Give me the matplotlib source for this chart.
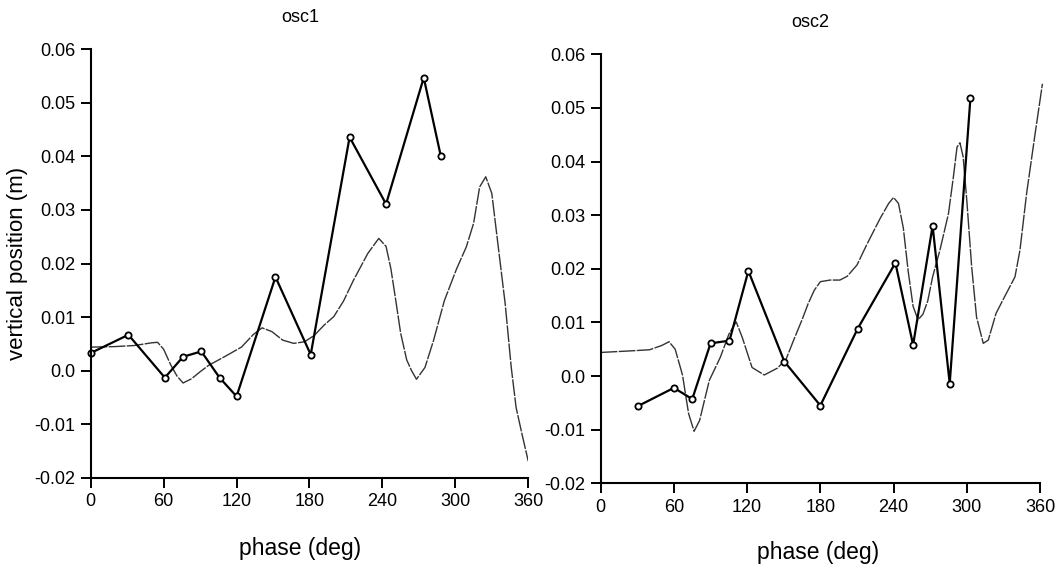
import matplotlib
matplotlib.use("Agg")
from matplotlib import pyplot as plt

plt.rcParams['font.family'] = ['Liberation Sans', 'DejaVu Sans']

# osc1: measured points (solid) and smooth model curve (dashed)
osc1_phase = [0, 31, 61, 76, 91, 106, 120, 152, 181, 213, 243, 274, 288]
osc1_pos = [0.0033, 0.0067, -0.0013, 0.0026, 0.0036, -0.0013, -0.0048,
            0.0175, 0.0030, 0.0436, 0.0311, 0.0547, 0.0401]

osc1_curve_phase = [0, 20, 36, 50, 55, 60, 66, 71, 76, 83, 90, 97, 110, 124,
                    134, 141, 149, 158, 167, 176, 184, 192, 200, 208, 216,
                    228, 237, 243, 247, 251, 255, 260, 264, 268, 275, 282,
                    291, 301, 309, 315, 320, 325, 330, 335, 341, 346, 350,
                    355, 360]
osc1_curve_pos = [0.0044, 0.0045, 0.0047, 0.0052, 0.0053, 0.0040, 0.0010,
                  -0.0010, -0.0023, -0.0015, -0.0002, 0.0010, 0.0026, 0.0044,
                  0.0068, 0.0080, 0.0073, 0.0057, 0.0051, 0.0054, 0.0066,
                  0.0085, 0.0101, 0.0130, 0.0168, 0.0219, 0.0247, 0.0232,
                  0.0190, 0.0131, 0.0070, 0.0020, 0.0000, -0.0016, 0.0006,
                  0.0056, 0.0131, 0.0190, 0.0231, 0.0275, 0.0343, 0.0362,
                  0.0331, 0.0237, 0.0125, 0.0006, -0.0069, -0.0120, -0.0169]

# osc2
osc2_phase = [30.5, 60, 75, 90, 105.5, 121, 150.5, 180, 210.5, 241.5, 256,
              272, 286, 303]
osc2_pos = [-0.0056, -0.0022, -0.0043, 0.0061, 0.0066, 0.0196, 0.0027,
            -0.0055, 0.0088, 0.0211, 0.0058, 0.0280, -0.0014, 0.0519]

osc2_curve_phase = [0, 25, 40, 50, 56, 61, 67, 72, 76.5, 81, 89, 98, 105, 111,
                    116, 124, 134, 145, 152, 159, 165, 170, 175, 180, 188,
                    196, 202, 210, 218, 229, 236, 240, 244, 248, 252, 256,
                    260, 264, 268, 272, 278, 285, 289, 292, 294.4, 297, 300,
                    304, 308, 313.5, 317.6, 324, 331, 339.5, 343.6, 349, 356,
                    362]
osc2_curve_pos = [0.0044, 0.0047, 0.0049, 0.0057, 0.0064, 0.0050, 0.0002,
                  -0.0070, -0.0103, -0.0083, -0.0008, 0.0035, 0.0078, 0.0101,
                  0.0072, 0.0016, 0.0002, 0.0015, 0.0032, 0.0072, 0.0105,
                  0.0135, 0.0160, 0.0176, 0.0179, 0.0179, 0.0186, 0.0207,
                  0.0245, 0.0294, 0.0322, 0.0333, 0.0322, 0.0276, 0.0195,
                  0.0130, 0.0105, 0.0115, 0.0140, 0.0185, 0.0235, 0.0303,
                  0.0371, 0.0427, 0.0435, 0.0409, 0.0328, 0.0204, 0.0110,
                  0.0061, 0.0067, 0.0117, 0.0148, 0.0185, 0.0235, 0.0340,
                  0.0452, 0.0545]

x_ticks = [0, 60, 120, 180, 240, 300, 360]
y_ticks = [-0.02, -0.01, 0.0, 0.01, 0.02, 0.03, 0.04, 0.05, 0.06]
y_labels = ['-0.02', '-0.01', '0.0', '0.01', '0.02', '0.03', '0.04', '0.05', '0.06']

fig = plt.figure(figsize=(10.61, 5.64), dpi=100)
ax1 = fig.add_axes([0.0855, 0.1528, 0.4124, 0.7598])
ax2 = fig.add_axes([0.5662, 0.1431, 0.4140, 0.7606])


def style_axis(ax, title, title_x, xlabel_x, xlabel_y):
    ax.set_xlim(0, 360)
    ax.set_ylim(-0.02, 0.06)
    ax.set_xticks(x_ticks)
    ax.set_yticks(y_ticks)
    ax.set_yticklabels(y_labels)
    for side in ['top', 'right']:
        ax.spines[side].set_visible(False)
    for side in ['left', 'bottom']:
        ax.spines[side].set_linewidth(1.5)
    ax.tick_params(direction='out', length=7, width=1.4, labelsize=13, pad=4)
    ax.set_title(title, fontsize=13, x=title_x, pad=20)
    ax.set_xlabel('phase (deg)', fontsize=16.5)
    ax.xaxis.set_label_coords(xlabel_x, xlabel_y)


# left panel
ax1.plot(osc1_curve_phase, osc1_curve_pos, color='#333333', lw=1.0,
         ls=(0, (12, 1)))
ax1.plot(osc1_phase, osc1_pos, color='black', lw=1.6, marker='o', ms=4.5,
         mfc='white', mec='black', mew=1.3, clip_on=False)
style_axis(ax1, 'osc1', 0.478, 0.478, -0.138)
ax1.set_ylabel('vertical position (m)', fontsize=16)
ax1.yaxis.set_label_coords(-0.143, 0.5)

# right panel
ax2.plot(osc2_curve_phase, osc2_curve_pos, color='#333333', lw=1.0,
         ls=(0, (12, 1)), clip_on=False)
ax2.plot(osc2_phase, osc2_pos, color='black', lw=1.6, marker='o', ms=4.5,
         mfc='white', mec='black', mew=1.3, clip_on=False)
style_axis(ax2, 'osc2', 0.476, 0.495, -0.135)

fig.savefig('out.png', dpi=100)
